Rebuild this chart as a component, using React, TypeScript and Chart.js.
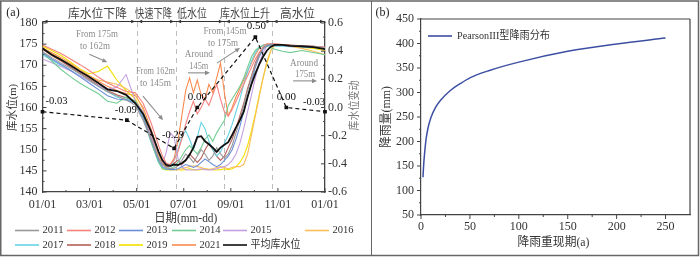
import React, { useEffect, useRef } from 'react';
import { Chart, registerables } from 'chart.js';
Chart.register(...registerables);

const SERIF = "'Liberation Serif', 'Times New Roman', serif";
const CJK = "'Liberation Serif', 'Noto Sans CJK SC', sans-serif";

// ---------- Panel (a) data ----------
const days = [0, 12, 24, 36, 48, 60, 72, 84, 96, 108, 120, 130, 140, 150, 155, 160,
  165, 170, 175, 180, 185, 190, 195, 200, 205, 210, 215, 220, 225, 230, 235, 240,
  245, 250, 255, 260, 265, 270, 275, 280, 285, 290, 295, 300, 310, 320, 335, 350, 365];

const years = ['2011', '2012', '2013', '2014', '2015', '2016', '2017', '2018', '2019', '2021'];

const y2011 = [173.2, 171.8, 170.5, 169.3, 168.0, 166.5, 165.0, 163.7, 162.8, 161.8, 160.5,
  157.0, 152.5, 148.0, 146.5, 145.8,
  145.5, 145.6, 146.2, 147.5, 149.0, 148.2, 147.0, 148.5, 150.0, 149.0, 147.5, 148.5, 150.5, 149.0, 148.0, 149.0,
  151.0, 154.0, 157.0, 160.5, 164.0, 167.0, 170.0, 172.5, 174.0, 174.8, 175.0, 174.9,
  174.8, 174.7, 174.6, 174.5, 174.2];
const y2012 = [174.8, 173.8, 172.8, 171.5, 170.2, 168.8, 167.2, 165.8, 164.8, 163.8, 163.5,
  161.0, 156.5, 151.0, 148.5, 146.8,
  146.5, 147.5, 149.5, 152.5, 156.0, 159.0, 161.5, 158.5, 160.0, 162.0, 160.5, 163.0, 165.5, 162.0, 159.0, 158.0,
  159.5, 161.5, 163.5, 165.5, 167.5, 169.5, 171.5, 173.0, 174.3, 175.0, 175.0, 175.0,
  174.9, 174.7, 174.6, 174.5, 174.3];
const y2013 = [173.0, 171.5, 170.2, 168.8, 167.3, 165.8, 164.3, 162.8, 162.0, 161.8, 161.0,
  157.5, 152.5, 147.5, 146.0, 145.5,
  145.3, 145.3, 145.5, 146.0, 146.5, 146.2, 145.8, 146.2, 147.0, 147.8, 147.2, 146.5, 146.0, 146.5, 147.5, 148.5,
  150.0, 152.5, 155.5, 159.0, 162.5, 166.0, 169.5, 172.0, 173.8, 174.6, 174.8, 174.8,
  174.7, 174.6, 174.4, 174.3, 174.0];
const y2014 = [173.0, 171.0, 169.0, 167.3, 165.8, 164.5, 163.3, 161.5, 161.0, 162.5, 161.5,
  158.0, 152.0, 147.0, 145.5, 145.3,
  145.5, 146.0, 147.0, 148.5, 150.0, 151.0, 150.0, 149.0, 150.5, 152.5, 153.5, 152.0, 154.0, 155.5, 157.0, 160.5,
  162.0, 163.5, 165.0, 167.0, 169.5, 172.0, 173.5, 174.3, 174.6, 174.5, 174.2, 173.8,
  173.3, 173.0, 173.5, 173.0, 172.5];
const y2015 = [171.5, 170.6, 169.7, 168.7, 167.5, 166.3, 165.2, 164.3, 164.8, 167.8, 161.5,
  159.0, 153.5, 148.0, 146.5, 149.5,
  154.0, 153.0, 148.0, 146.0, 145.3, 145.2, 145.2, 145.3, 145.5, 145.3, 145.2, 145.3, 145.5, 145.8, 146.0, 146.5,
  147.5, 149.0, 151.5, 155.0, 159.0, 163.0, 167.0, 170.5, 173.0, 174.5, 175.0, 174.8,
  174.7, 174.6, 174.5, 174.4, 174.2];
const y2016 = [174.2, 172.8, 171.5, 170.3, 169.0, 167.5, 166.5, 166.0, 165.5, 164.5, 163.0,
  159.5, 154.0, 148.5, 146.5, 145.8,
  145.5, 145.3, 145.3, 145.5, 145.8, 146.0, 146.2, 146.0, 145.8, 145.5, 145.3, 145.5, 145.8, 146.0, 145.8, 145.5,
  145.8, 146.0, 146.0, 146.5, 149.0, 153.5, 158.0, 162.5, 167.0, 171.0, 173.5, 174.8,
  174.8, 174.5, 174.0, 173.3, 172.5];
const y2017 = [172.5, 171.2, 170.0, 168.8, 167.5, 166.3, 165.0, 163.8, 162.5, 162.0, 161.2,
  157.5, 152.0, 147.0, 145.8, 145.5,
  146.0, 147.5, 150.0, 153.0, 154.5, 152.5, 150.0, 153.0, 156.5, 155.0, 152.0, 150.0, 148.5, 149.5, 151.5, 153.5,
  156.0, 159.0, 162.0, 165.5, 168.5, 171.0, 173.0, 174.2, 174.8, 174.8, 174.6, 174.5,
  174.5, 174.4, 174.3, 174.2, 174.0];
const y2018 = [173.8, 172.3, 171.0, 169.6, 168.2, 166.8, 165.3, 164.0, 163.0, 162.3, 161.5,
  158.0, 153.5, 148.5, 146.8, 146.0,
  146.0, 146.8, 147.5, 146.5, 147.5, 149.0, 148.0, 147.0, 148.0, 150.0, 151.5, 150.0, 148.5, 147.5, 148.5, 150.5,
  152.5, 155.0, 158.0, 161.0, 164.5, 167.5, 170.5, 172.8, 174.2, 174.8, 175.0, 175.0,
  174.9, 174.8, 174.6, 174.5, 174.2];
const y2019 = [174.5, 173.5, 172.3, 170.8, 169.2, 168.0, 168.5, 169.8, 166.5, 164.0, 162.0,
  158.5, 153.0, 147.5, 145.5, 145.2,
  145.2, 145.3, 145.3, 145.2, 145.3, 145.5, 145.3, 145.2, 145.3, 145.5, 145.4, 145.3, 145.2, 145.3, 145.5, 145.3,
  145.5, 146.0, 147.0, 148.5, 151.0, 154.5, 158.5, 163.0, 167.0, 170.5, 173.5, 174.8,
  174.7, 174.5, 174.3, 174.0, 173.5];
const y2021 = [174.0, 173.0, 171.8, 170.5, 169.0, 167.6, 166.2, 165.0, 164.0, 163.3, 162.8,
  160.0, 155.0, 149.5, 147.0, 146.2,
  146.5, 148.0, 152.0, 158.0, 164.0, 167.0, 163.5, 166.5, 163.0, 162.0, 165.5, 163.5, 167.0, 170.5, 163.5, 158.0,
  160.0, 162.5, 164.5, 166.5, 168.5, 170.5, 172.5, 174.0, 174.8, 175.0, 175.0, 174.9,
  174.8, 174.7, 174.5, 174.4, 174.2];
const avgLevel = [174.0, 172.5, 171.3, 170.0, 168.6, 167.3, 165.8, 164.3, 163.9, 163.0, 161.0,
  158.5, 154.5, 149.5, 147.5, 146.4,
  146.2, 146.5, 146.4, 146.8, 147.5, 148.8, 150.5, 153.0, 153.2, 152.0, 151.3, 150.5, 149.5, 150.5, 151.2, 151.8,
  153.5, 155.3, 157.0, 159.0, 162.5, 165.5, 168.0, 170.2, 172.0, 173.5, 174.4, 174.8,
  174.8, 174.6, 174.5, 174.3, 173.8];

const changeDays = [0, 109, 170, 200, 275, 315, 365];
const changeValues = [-0.03, -0.09, -0.29, 0.0, 0.5, 0.0, -0.03];

const xTickLabels = ['01/01', '03/01', '05/01', '07/01', '09/01', '11/01', '01/01'];
const levelTicks = [140, 145, 150, 155, 160, 165, 170, 175, 180];
const changeTicks = [-0.6, -0.4, -0.2, 0.0, 0.2, 0.4, 0.6];
const phaseBoundaryDays = [121.7, 172, 235, 296.5];
const phaseNames = ['库水位下降', '快速下降', '低水位', '库水位上升', '高水位'];

// ---------- Panel (b) data ----------
const returnPeriods = [2, 3, 5, 7, 10, 15, 20, 30, 40, 50, 70, 100, 150, 200, 250];
const rainfall = [127, 160, 202, 226, 248, 270, 284, 304, 318, 330, 345, 362, 384, 399, 411];
const rpTicks = [0, 50, 100, 150, 200, 250];
const rainTicks = [50, 100, 150, 200, 250, 300, 350, 400, 450];

// ---------- styles ----------
const yearColors = ['#999999', '#f4827e', '#6b8fd6', '#72cc93', '#c49fe0', '#f9bd5b', '#66d2e4', '#b5615b', '#f2e000', '#f98b4f'];
const AXIS = '#444';
const TXT = '#333';
const NOTE = '#8c8c8c';

const phaseLabelPos = [
  { day: 71, w: 59 }, { day: 143.4, w: 37 }, { day: 193.2, w: 30 }, { day: 261.6, w: 50 }, { day: 329.5, w: 35 },
];
const notes = [
  { day: 70.4, m: 177.4, text: 'From 175m', w: 42 },
  { day: 67.8, m: 174.6, text: 'to 162m', w: 30 },
  { day: 146, m: 168.6, text: 'From 162m', w: 39 },
  { day: 146, m: 165.8, text: 'to 145m', w: 31 },
  { day: 202, m: 172.7, text: 'Around', w: 28 },
  { day: 202, m: 169.8, text: '145m', w: 19 },
  { day: 235.8, m: 178.1, text: 'From 145m', w: 43 },
  { day: 233.2, m: 175.3, text: 'to 175m', w: 30 },
  { day: 337.9, m: 170.5, text: 'Around', w: 28 },
  { day: 339.2, m: 167.9, text: '175m', w: 20 },
];
const noteArrows = [
  [60.5, 172.6, 83.7, 170.7],
  [129.8, 162.7, 155.7, 157.0],
  [188, 168.2, 216.4, 168.2],
  [225.4, 170.5, 255.2, 174.1],
  [323.7, 166.3, 354.7, 166.3],
];
const changeLabelOffsets: [number, number, CanvasTextAlign][] = [
  [3, -11, 'left'], [-1, -10, 'center'], [-1, -13, 'center'], [0, -10, 'center'],
  [1, -11, 'center'], [0, -10, 'center'], [-11, -10, 'center'],
];
const legendSlotsX = [15, 67, 119, 172, 223, 305];

function txt(ctx: any, s: string, x: number, y: number, font: string, color: string, align: CanvasTextAlign = 'center', maxW?: number) {
  ctx.font = font;
  ctx.fillStyle = color;
  ctx.textAlign = align;
  ctx.textBaseline = 'middle';
  if (maxW) ctx.fillText(s, x, y, maxW);
  else ctx.fillText(s, x, y);
}
function seg(ctx: any, x1: number, y1: number, x2: number, y2: number) {
  ctx.beginPath();
  ctx.moveTo(x1, y1);
  ctx.lineTo(x2, y2);
  ctx.stroke();
}
function arrow(ctx: any, x1: number, y1: number, x2: number, y2: number, color: string) {
  const a = Math.atan2(y2 - y1, x2 - x1);
  const h = 5, hw = 2.3;
  ctx.strokeStyle = color;
  ctx.fillStyle = color;
  ctx.lineWidth = 1.1;
  seg(ctx, x1, y1, x2 - h * 0.7 * Math.cos(a), y2 - h * 0.7 * Math.sin(a));
  ctx.beginPath();
  ctx.moveTo(x2, y2);
  ctx.lineTo(x2 - h * Math.cos(a) + hw * Math.sin(a), y2 - h * Math.sin(a) - hw * Math.cos(a));
  ctx.lineTo(x2 - h * Math.cos(a) - hw * Math.sin(a), y2 - h * Math.sin(a) + hw * Math.cos(a));
  ctx.closePath();
  ctx.fill();
}
function tri(ctx: any, tipX: number, y: number, dir: number) {
  ctx.beginPath();
  ctx.moveTo(tipX, y);
  ctx.lineTo(tipX - dir * 4, y - 1.8);
  ctx.lineTo(tipX - dir * 4, y + 1.8);
  ctx.closePath();
  ctx.fill();
}

const panelAPlugin = {
  id: 'panelA',
  beforeDatasetsDraw(chart: any) {
    const { ctx, chartArea: ca, scales } = chart;
    ctx.save();
    ctx.strokeStyle = '#bdbdbd';
    ctx.lineWidth = 1;
    ctx.setLineDash([5, 4]);
    phaseBoundaryDays.forEach((d) => {
      const px = Math.round(scales.x.getPixelForValue(d)) + 0.5;
      seg(ctx, px, ca.top - 1, px, ca.bottom);
    });
    ctx.restore();
  },
  afterDraw(chart: any) {
    const { ctx, chartArea: ca, scales } = chart;
    const sx = scales.x, sy = scales.y, sy1 = scales.y1;
    ctx.save();
    // ticks
    ctx.strokeStyle = AXIS;
    ctx.lineWidth = 1;
    levelTicks.forEach((v, i) => {
      const p = sy.getPixelForValue(v);
      seg(ctx, ca.left, p, ca.left + 4, p);
      if (i < levelTicks.length - 1) {
        const q = sy.getPixelForValue(v + 2.5);
        seg(ctx, ca.left, q, ca.left + 2, q);
      }
    });
    changeTicks.forEach((v, i) => {
      const p = sy1.getPixelForValue(v);
      seg(ctx, ca.right - 4, p, ca.right, p);
      if (i < changeTicks.length - 1) {
        const q = sy1.getPixelForValue(v + 0.1);
        seg(ctx, ca.right - 2, q, ca.right, q);
      }
    });
    xTickLabels.forEach((_, i) => {
      const p = sx.getPixelForValue((i * 365) / 6);
      seg(ctx, p, ca.bottom - 4, p, ca.bottom);
      if (i < xTickLabels.length - 1) {
        const q = sx.getPixelForValue(((i + 0.5) * 365) / 6);
        seg(ctx, q, ca.bottom - 2, q, ca.bottom);
      }
    });
    // top phase line with arrows
    const ty = ca.top - 1.5;
    ctx.strokeStyle = '#333';
    ctx.fillStyle = '#333';
    ctx.lineWidth = 1;
    seg(ctx, ca.left, ty, ca.right, ty);
    seg(ctx, ca.left, ty, ca.left, ca.top);
    seg(ctx, ca.right, ty, ca.right, ca.top);
    tri(ctx, ca.left + 1, ty, -1);
    tri(ctx, ca.right - 1, ty, 1);
    phaseBoundaryDays.forEach((d) => {
      const px = sx.getPixelForValue(d);
      tri(ctx, px - 1.5, ty, 1);
      tri(ctx, px + 1.5, ty, -1);
    });
    phaseNames.forEach((n, i) => {
      txt(ctx, n, sx.getPixelForValue(phaseLabelPos[i].day), 15, `12px ${CJK}`, '#444', 'center', phaseLabelPos[i].w);
    });
    // notes
    notes.forEach((n) => {
      txt(ctx, n.text, sx.getPixelForValue(n.day), sy.getPixelForValue(n.m), `11px ${SERIF}`, NOTE, 'center', n.w);
    });
    noteArrows.forEach((a) => {
      arrow(ctx, sx.getPixelForValue(a[0]), sy.getPixelForValue(a[1]), sx.getPixelForValue(a[2]), sy.getPixelForValue(a[3]), NOTE);
    });
    // change labels
    const meta = chart.getDatasetMeta(0);
    meta.data.forEach((pt: any, i: number) => {
      const [dx, dy, al] = changeLabelOffsets[i];
      txt(ctx, changeValues[i].toFixed(2), pt.x + dx, pt.y + dy, `11px ${SERIF}`, '#111', al, 22);
    });
    // titles
    txt(ctx, '(a)', 13, 13, `12px ${SERIF}`, '#222');
    txt(ctx, '日期(mm-dd)', (ca.left + ca.right) / 2 + 2, 219, `12px ${CJK}`, TXT, 'center', 63);
    ctx.save();
    ctx.translate(13, (ca.top + ca.bottom) / 2);
    ctx.rotate(-Math.PI / 2);
    txt(ctx, '库水位(m)', 0, 0, `11px ${CJK}`, TXT, 'center', 47);
    ctx.restore();
    ctx.save();
    ctx.translate(355, (ca.top + ca.bottom) / 2 - 2);
    ctx.rotate(-Math.PI / 2);
    txt(ctx, '库水位变动', 0, 0, `11px ${CJK}`, '#777', 'center', 50);
    ctx.restore();
    // legend
    const rows = [years.slice(0, 6), [...years.slice(6), '平均库水位']];
    rows.forEach((row, r) => {
      const ly = r === 0 ? 230.5 : 245;
      row.forEach((lab, c) => {
        const k = years.indexOf(lab);
        const color = k >= 0 ? yearColors[k] : '#111';
        const lx = legendSlotsX[c];
        ctx.strokeStyle = color;
        ctx.lineWidth = 1.6;
        seg(ctx, lx, ly, lx + 24, ly);
        txt(ctx, lab, lx + 27.5, ly, `11px ${CJK}`, TXT, 'left', k >= 0 ? 21 : 50);
      });
    });
    // frame
    ctx.strokeStyle = '#666';
    ctx.lineWidth = 1.5;
    ctx.strokeRect(0.75, 1, 371, 254.5);
    ctx.restore();
  },
};

const panelBPlugin = {
  id: 'panelB',
  afterDraw(chart: any) {
    const { ctx, chartArea: ca, scales } = chart;
    const sx = scales.x, sy = scales.y;
    ctx.save();
    ctx.strokeStyle = AXIS;
    ctx.lineWidth = 1.2;
    seg(ctx, ca.left, ca.top, ca.right, ca.top);
    seg(ctx, ca.right, ca.top, ca.right, ca.bottom);
    ctx.lineWidth = 1;
    rainTicks.forEach((v, i) => {
      const p = sy.getPixelForValue(v);
      seg(ctx, ca.left - 4, p, ca.left, p);
      if (i < rainTicks.length - 1) {
        const q = sy.getPixelForValue(v + 25);
        seg(ctx, ca.left - 2, q, ca.left, q);
      }
    });
    rpTicks.forEach((v) => {
      const p = sx.getPixelForValue(v);
      seg(ctx, p, ca.bottom, p, ca.bottom + 4);
      const q = sx.getPixelForValue(v + 25);
      if (q < ca.right) seg(ctx, q, ca.bottom, q, ca.bottom + 2);
    });
    txt(ctx, '(b)', 10.5, 13, `12px ${SERIF}`, '#222');
    txt(ctx, '降雨重现期(a)', (ca.left + ca.right) / 2 - 2, 243, `12px ${CJK}`, TXT, 'center', 72);
    ctx.save();
    ctx.translate(15, (ca.top + ca.bottom) / 2);
    ctx.rotate(-Math.PI / 2);
    txt(ctx, '降雨量(mm)', 0, 0, `12px ${CJK}`, TXT, 'center', 62);
    ctx.restore();
    // legend
    ctx.strokeStyle = '#3d4fa3';
    ctx.lineWidth = 1.6;
    seg(ctx, ca.left + 7, 36, ca.left + 31, 36);
    txt(ctx, 'PearsonIII型降雨分布', ca.left + 36, 36, `11px ${CJK}`, TXT, 'left', 93);
    // frame
    ctx.strokeStyle = '#666';
    ctx.lineWidth = 1.5;
    ctx.strokeRect(-1, 1, 327.5, 254.5);
    ctx.restore();
  },
};

export default function App() {
  const refA = useRef<HTMLCanvasElement>(null);
  const refB = useRef<HTMLCanvasElement>(null);

  useEffect(() => {
    const tickFont = { family: SERIF, size: 12 };
    const noGrid = { display: false, drawTicks: false, tickLength: 0 };
    const yearSeries = [y2011, y2012, y2013, y2014, y2015, y2016, y2017, y2018, y2019, y2021];
    const dsA: any[] = [
      {
        label: '库水位变动',
        data: changeDays.map((d, i) => ({ x: d, y: changeValues[i] })),
        yAxisID: 'y1',
        borderColor: '#111',
        borderWidth: 1.2,
        borderDash: [4, 3],
        pointStyle: 'rect',
        pointRadius: 2.6,
        pointBackgroundColor: '#111',
        pointBorderColor: '#111',
        pointBorderWidth: 0,
        order: 0,
        clip: 5,
      },
      {
        label: '平均库水位',
        data: days.map((d, i) => ({ x: d, y: avgLevel[i] })),
        yAxisID: 'y',
        borderColor: '#111',
        borderWidth: 1.8,
        pointRadius: 0,
        order: 1,
      },
      ...years.map((yr, k) => ({
        label: yr,
        data: days.map((d, i) => ({ x: d, y: yearSeries[k][i] })),
        yAxisID: 'y',
        borderColor: yearColors[k],
        borderWidth: 1.1,
        pointRadius: 0,
        order: 2 + k,
      })),
    ];
    const chartA = new Chart(refA.current as HTMLCanvasElement, {
      type: 'line',
      data: { datasets: dsA },
      options: {
        responsive: false,
        animation: false,
        layout: { padding: { top: 23, left: 0, right: 0, bottom: 0 } },
        plugins: { legend: { display: false }, tooltip: { enabled: false } },
        scales: {
          x: {
            type: 'linear',
            min: 0,
            max: 365,
            afterBuildTicks: (s: any) => {
              s.ticks = xTickLabels.map((_, i) => ({ value: (i * 365) / 6 }));
            },
            afterFit: (s: any) => { s.height = 65; },
            ticks: {
              callback: (_v: any, i: number) => xTickLabels[i],
              font: tickFont, color: TXT, padding: 6, maxRotation: 0, autoSkip: false,
            },
            grid: noGrid,
            border: { display: true, color: AXIS, width: 1.3 },
          },
          y: {
            type: 'linear',
            position: 'left',
            min: 140,
            max: 180,
            afterBuildTicks: (s: any) => { s.ticks = levelTicks.map((v) => ({ value: v })); },
            afterFit: (s: any) => { s.width = 42.5; },
            ticks: { font: tickFont, color: TXT, padding: 5, callback: (v: any) => String(v) },
            grid: noGrid,
            border: { display: true, color: AXIS, width: 1.3 },
          },
          y1: {
            type: 'linear',
            position: 'right',
            min: -0.6,
            max: 0.6,
            afterBuildTicks: (s: any) => { s.ticks = changeTicks.map((v) => ({ value: v })); },
            afterFit: (s: any) => { s.width = 47; },
            ticks: { font: tickFont, color: TXT, padding: 3, callback: (v: any) => Number(v).toFixed(1) },
            grid: noGrid,
            border: { display: true, color: AXIS, width: 1.3 },
          },
        },
      } as any,
      plugins: [panelAPlugin],
    });

    const chartB = new Chart(refB.current as HTMLCanvasElement, {
      type: 'line',
      data: {
        datasets: [
          {
            label: 'PearsonIII型降雨分布',
            data: returnPeriods.map((t, i) => ({ x: t, y: rainfall[i] })),
            borderColor: '#3d4fa3',
            borderWidth: 1.5,
            pointRadius: 0,
            cubicInterpolationMode: 'monotone',
          } as any,
        ],
      },
      options: {
        responsive: false,
        animation: false,
        layout: { padding: { top: 19, left: 0, right: 10, bottom: 0 } },
        plugins: { legend: { display: false }, tooltip: { enabled: false } },
        scales: {
          x: {
            type: 'linear',
            min: 0,
            max: 275,
            afterBuildTicks: (s: any) => { s.ticks = rpTicks.map((v) => ({ value: v })); },
            afterFit: (s: any) => { s.height = 42; },
            ticks: { font: tickFont, color: TXT, padding: 5, maxRotation: 0, autoSkip: false, callback: (v: any) => String(v) },
            grid: noGrid,
            border: { display: true, color: AXIS, width: 1.2 },
          },
          y: {
            type: 'linear',
            min: 50,
            max: 450,
            afterBuildTicks: (s: any) => { s.ticks = rainTicks.map((v) => ({ value: v })); },
            afterFit: (s: any) => { s.width = 49; },
            ticks: { font: tickFont, color: TXT, padding: 7, callback: (v: any) => String(v) },
            grid: noGrid,
            border: { display: true, color: AXIS, width: 1.2 },
          },
        },
      } as any,
      plugins: [panelBPlugin],
    });

    return () => {
      chartA.destroy();
      chartB.destroy();
    };
  }, []);

  return (
    <div style={{ position: 'absolute', left: 0, top: 0, width: 700, height: 257, background: '#fff', overflow: 'hidden' }}>
      <canvas ref={refA} width={372} height={257} style={{ position: 'absolute', left: 0, top: 0, width: 372, height: 257 }} />
      <canvas ref={refB} width={328} height={257} style={{ position: 'absolute', left: 372, top: 0, width: 328, height: 257 }} />
    </div>
  );
}
